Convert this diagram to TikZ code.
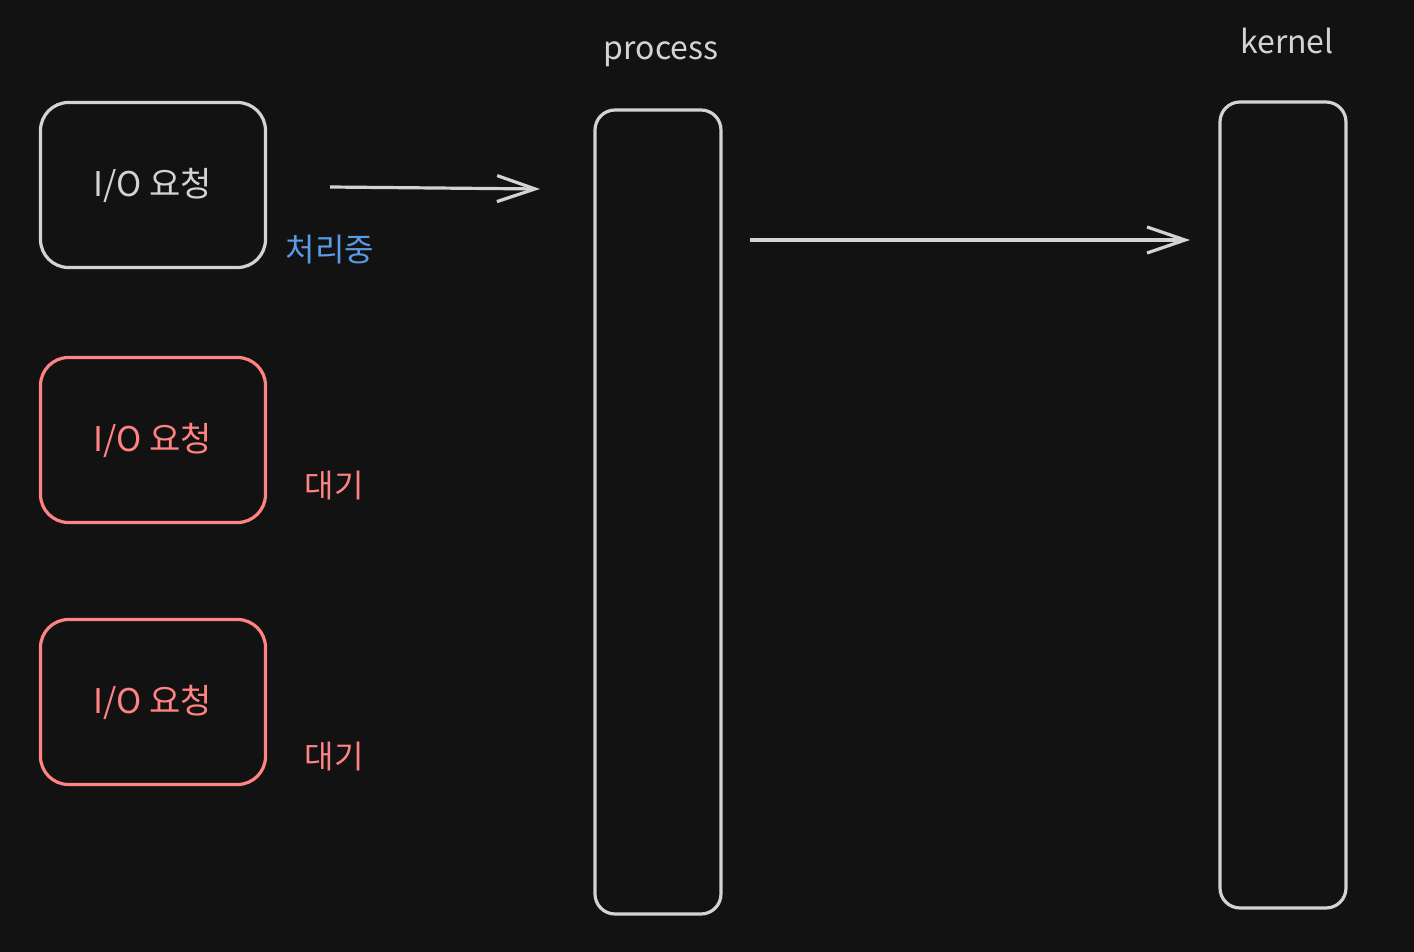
\documentclass[tikz,border=0pt]{standalone}
\usepackage{fontspec}
\setmainfont{Noto Sans CJK KR}
\usepackage{tikz}
\usetikzlibrary{arrows.meta,positioning}
\definecolor{IoBack}{HTML}{121212}
\definecolor{IoLine}{HTML}{D3D3D3}
\definecolor{IoRed}{HTML}{FF8383}
\definecolor{IoBlue}{HTML}{5B9BE6}
\begin{document}
\begin{tikzpicture}[x=0.5pt,y=-0.5pt,>={Straight Barb[length=19pt,width=13pt]}]
  \tikzset{reqbox/.style={rounded corners=14pt, draw=IoLine, line width=1.6pt, minimum width=112.5pt, minimum height=82.5pt, font=\fontsize{17}{19}\selectfont, text=IoLine},
    lane/.style={rounded corners=10pt, draw=IoLine, line width=1.6pt, minimum width=63pt},
    tag/.style={font=\fontsize{16}{18}\selectfont}}
  \fill[IoBack] (0,0) rectangle (1414,952);
  \useasboundingbox (0,0) rectangle (1414,952);
  % request boxes
  \node[reqbox] (req1) at (153,185) {I/O 요청};
  \node[reqbox, draw=IoRed, text=IoRed] (req2) at (153,440) {I/O 요청};
  \node[reqbox, draw=IoRed, text=IoRed] (req3) at (153,702) {I/O 요청};
  \node[tag, text=IoBlue] (run) at (330,250) {처리중};
  \node[tag, text=IoRed] (wait1) at (334,486) {대기};
  \node[tag, text=IoRed] (wait2) at (334,757) {대기};
  % process and kernel
  \node[lane, minimum height=402pt] (proc) at (658,512) {};
  \node[lane, minimum height=403pt] (kern) at (1283,505) {};
  \node[tag, text=IoLine] (proclbl) at (661,54) {process};
  \node[tag, text=IoLine] (kernlbl) at (1287,41) {kernel};
  \coordinate (a1) at (330,187);
  \coordinate (a2) at (540,189);
  \coordinate (b1) at (750,240);
  \coordinate (b2) at (1190,240);
  \draw[->,line width=1.6pt,IoLine] (a1) -- (a2);
  \draw[->,line width=1.6pt,IoLine] (b1) -- (b2);
\end{tikzpicture}
\end{document}
